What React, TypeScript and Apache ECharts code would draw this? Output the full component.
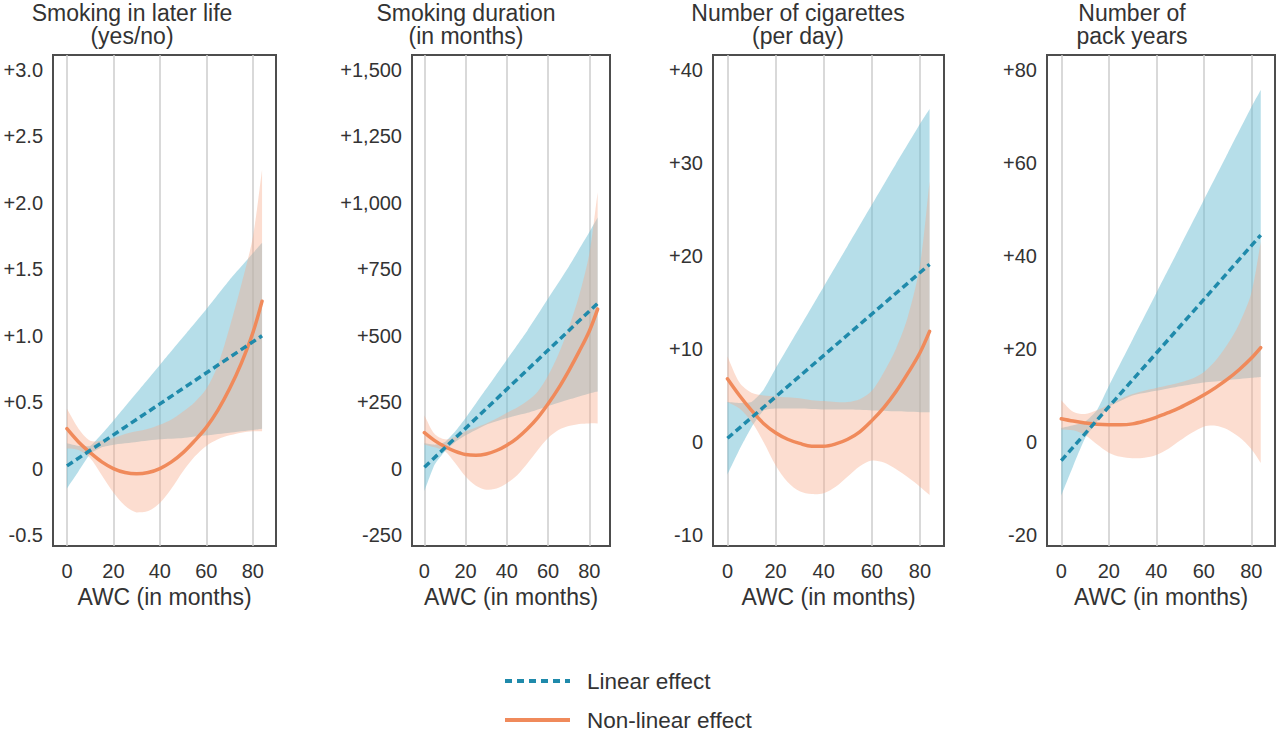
import React, { useEffect, useRef } from "react";
import * as echarts from "echarts";

// ---------- data ----------
const AWC = [0, 5, 10, 15, 20, 25, 30, 35, 40, 45, 50, 55, 60, 65, 70, 75, 80, 84];
const AWC_LIN = [0, 5, 10, 15, 20, 30, 40, 50, 60, 70, 80, 84];
const AWC_ENDS = [0, 84];
const X_TICKS = [0, 20, 40, 60, 80];

const TITLE_LINE1 = ["Smoking in later life", "Smoking duration", "Number of cigarettes", "Number of"];
const TITLE_LINE2 = ["(yes/no)", "(in months)", "(per day)", "pack years"];

// Panel 1 – smoking in later life
const p1Ticks = [-0.5, 0, 0.5, 1, 1.5, 2, 2.5, 3];
const p1TickLabels = ["-0.5", "0", "+0.5", "+1.0", "+1.5", "+2.0", "+2.5", "+3.0"];
const p1LinearEffect = [0.02, 1.0];
const p1LinearLow = [-0.15, -0.02, 0.11, 0.16, 0.18, 0.2, 0.22, 0.23, 0.25, 0.27, 0.29, 0.3];
const p1LinearHigh = [0.19, 0.17, 0.17, 0.26, 0.36, 0.57, 0.78, 0.99, 1.2, 1.42, 1.62, 1.7];
const p1NonLinear = [0.3, 0.2, 0.12, 0.05, 0.0, -0.03, -0.04, -0.03, 0.0, 0.05, 0.12, 0.21, 0.31, 0.44, 0.6, 0.79, 1.02, 1.26];
const p1NonLinearLow = [0.15, 0.14, 0.08, -0.05, -0.18, -0.28, -0.33, -0.32, -0.26, -0.15, -0.02, 0.09, 0.17, 0.22, 0.25, 0.27, 0.28, 0.28];
const p1NonLinearHigh = [0.45, 0.3, 0.21, 0.21, 0.23, 0.26, 0.28, 0.3, 0.33, 0.37, 0.43, 0.5, 0.6, 0.78, 1.06, 1.38, 1.74, 2.25];

// Panel 2 – smoking duration
const p2Ticks = [-250, 0, 250, 500, 750, 1000, 1250, 1500];
const p2TickLabels = ["-250", "0", "+250", "+500", "+750", "+1,000", "+1,250", "+1,500"];
const p2LinearEffect = [5, 622];
const p2LinearLow = [-85, 15, 65, 100, 125, 165, 190, 210, 235, 260, 283, 290];
const p2LinearHigh = [95, 90, 100, 140, 190, 300, 410, 520, 640, 760, 890, 945];
const p2NonLinear = [135, 105, 82, 65, 53, 50, 55, 68, 88, 115, 150, 192, 244, 302, 368, 440, 518, 600];
const p2NonLinearLow = [90, 80, 65, 20, -30, -65, -80, -75, -55, -25, 20, 70, 115, 145, 160, 168, 170, 170];
const p2NonLinearHigh = [200, 130, 110, 120, 140, 155, 170, 188, 210, 230, 255, 290, 350, 430, 530, 650, 810, 1040];

// Panel 3 – number of cigarettes
const p3Ticks = [-10, 0, 10, 20, 30, 40];
const p3TickLabels = ["-10", "0", "+10", "+20", "+30", "+40"];
const p3LinearEffect = [0.4, 19.1];
const p3LinearLow = [-3.5, -0.8, 1.6, 3.4, 3.6, 3.6, 3.5, 3.5, 3.4, 3.3, 3.2, 3.2];
const p3LinearHigh = [4.3, 4.2, 4.3, 5.6, 7.9, 12.3, 16.7, 21.1, 25.5, 29.9, 34.2, 35.8];
const p3NonLinear = [6.8, 5.0, 3.4, 2.0, 1.0, 0.3, -0.15, -0.45, -0.45, -0.2, 0.3, 1.1, 2.3, 3.7, 5.4, 7.4, 9.6, 11.9];
const p3NonLinearLow = [4.3, 3.6, 2.2, 0, -2.5, -4.3, -5.3, -5.6, -5.5, -4.8, -3.7, -2.6, -2.0, -2.2, -2.9, -3.8, -4.8, -5.7];
const p3NonLinearHigh = [9.2, 6.4, 5.3, 5.0, 4.9, 4.8, 4.7, 4.5, 4.4, 4.3, 4.3, 4.6, 5.5, 7.5, 10, 13.5, 19, 28];

// Panel 4 – number of pack years
const p4Ticks = [-20, 0, 20, 40, 60, 80];
const p4TickLabels = ["-20", "0", "+20", "+40", "+60", "+80"];
const p4LinearEffect = [-4, 44.5];
const p4LinearLow = [-11.5, -5.2, 0.8, 4.3, 7.5, 10, 11, 12, 12.8, 13.3, 13.8, 14];
const p4LinearHigh = [3, 3.6, 4.3, 6.8, 12, 22, 32, 42, 52, 62, 72, 75.7];
const p4NonLinear = [5.0, 4.5, 4.1, 3.8, 3.7, 3.7, 3.9, 4.5, 5.3, 6.3, 7.4, 8.7, 10.1, 11.7, 13.5, 15.6, 18, 20.3];
const p4NonLinearLow = [2.7, 2.5, 1.5, -0.5, -2.3, -3.2, -3.5, -3.4, -2.8, -1.5, 0.3, 2.0, 3.3, 3.5, 2.7, 1.0, -1.5, -4.5];
const p4NonLinearHigh = [9, 6.5, 6, 6.8, 8, 9.3, 10.3, 11, 11.6, 12.2, 12.8, 13.6, 15, 17.5, 21, 25.5, 32, 43];

const PANELS = [
  { ticks: p1Ticks, labels: p1TickLabels, lin: p1LinearEffect, linLo: p1LinearLow, linHi: p1LinearHigh, nl: p1NonLinear, nlLo: p1NonLinearLow, nlHi: p1NonLinearHigh },
  { ticks: p2Ticks, labels: p2TickLabels, lin: p2LinearEffect, linLo: p2LinearLow, linHi: p2LinearHigh, nl: p2NonLinear, nlLo: p2NonLinearLow, nlHi: p2NonLinearHigh },
  { ticks: p3Ticks, labels: p3TickLabels, lin: p3LinearEffect, linLo: p3LinearLow, linHi: p3LinearHigh, nl: p3NonLinear, nlLo: p3NonLinearLow, nlHi: p3NonLinearHigh },
  { ticks: p4Ticks, labels: p4TickLabels, lin: p4LinearEffect, linLo: p4LinearLow, linHi: p4LinearHigh, nl: p4NonLinear, nlLo: p4NonLinearLow, nlHi: p4NonLinearHigh },
];

// ---------- layout / style ----------
const GRID_TOP = 55;
const GRID_HEIGHT = 491;
const GRID_BOXES = [
  { left: 53, width: 223 },
  { left: 412, width: 198 },
  { left: 713, width: 231 },
  { left: 1047, width: 228 },
];
const Y_RANGES = [
  [-0.583, 3.113],
  [-291.4, 1556.5],
  [-11.18, 41.61],
  [-22.37, 83.23],
];
const X_RANGE = [-6, 90];
const TITLE_CENTERS = [132, 466, 798, 1132];

const FONT = "'Liberation Sans', Arial, Helvetica, sans-serif";
const TEXT = "#333333";
const BLUE_LINE = "#1f8aab";
const ORANGE_LINE = "#f08a5b";
const BLUE_BAND = "rgba(110,190,212,0.5)";
const ORANGE_BAND = "rgba(248,170,138,0.4)";

function bandSeries(i: number, xs: number[], lo: number[], hi: number[], fill: string, z: number, smooth: number) {
  const rows = xs.map((x, k) => [x, lo[k], hi[k]]);
  return {
    type: "custom",
    xAxisIndex: i,
    yAxisIndex: i,
    z,
    silent: true,
    data: rows,
    renderItem: (params: any, api: any) => {
      if (params.dataIndex !== 0) return { type: "group", children: [] };
      const top = rows.map((r) => api.coord([r[0], r[2]]));
      const bottom = rows.slice().reverse().map((r) => api.coord([r[0], r[1]]));
      const pts = [top[0], ...top, top[top.length - 1], bottom[0], ...bottom, bottom[bottom.length - 1]];
      let minX = Infinity, minY = Infinity, maxX = -Infinity, maxY = -Infinity;
      pts.forEach((p: number[]) => {
        minX = Math.min(minX, p[0]); maxX = Math.max(maxX, p[0]);
        minY = Math.min(minY, p[1]); maxY = Math.max(maxY, p[1]);
      });
      return {
        type: "polygon",
        silent: true,
        shape: { points: pts, smooth, smoothConstraint: [[minX, minY], [maxX, maxY]] },
        style: { fill, stroke: "none" },
      };
    },
  };
}

export default function App() {
  const ref = useRef<HTMLDivElement>(null);

  useEffect(() => {
    if (!ref.current) return;
    const chart = echarts.init(ref.current, undefined, { renderer: "svg" });

    const grid = GRID_BOXES.map((g) => ({
      left: g.left,
      width: g.width,
      top: GRID_TOP,
      height: GRID_HEIGHT,
      show: true,
      borderColor: "#4d4d4d",
      borderWidth: 2,
      backgroundColor: "transparent",
    }));

    const xAxis = GRID_BOXES.map((_, i) => ({
      gridIndex: i,
      type: "value",
      min: X_RANGE[0],
      max: X_RANGE[1],
      axisLine: { show: false },
      axisTick: { show: false },
      splitLine: { show: false },
      axisLabel: { customValues: X_TICKS, margin: 15, fontSize: 20, color: TEXT, fontFamily: FONT },
      name: "AWC (in months)",
      nameLocation: "middle",
      nameGap: 39,
      nameTextStyle: { fontSize: 23, color: TEXT, fontFamily: FONT },
    }));

    const yAxis = PANELS.map((p, i) => ({
      gridIndex: i,
      type: "value",
      min: Y_RANGES[i][0],
      max: Y_RANGES[i][1],
      axisLine: { show: false },
      axisTick: { show: false },
      splitLine: { show: false },
      axisLabel: {
        customValues: p.ticks,
        margin: 10,
        fontSize: 20,
        color: TEXT,
        fontFamily: FONT,
        formatter: (v: number) => {
          const k = p.ticks.findIndex((t) => Math.abs(t - v) < 1e-9);
          return k >= 0 ? p.labels[k] : "";
        },
      },
    }));

    const series: any[] = [];
    PANELS.forEach((p, i) => {
      series.push(bandSeries(i, AWC_LIN, p.linLo, p.linHi, BLUE_BAND, 2, 0.15));
      series.push(bandSeries(i, AWC, p.nlLo, p.nlHi, ORANGE_BAND, 3, 0.3));
      series.push({
        type: "line",
        name: "Non-linear effect",
        xAxisIndex: i,
        yAxisIndex: i,
        z: 4,
        data: AWC.map((x, k) => [x, p.nl[k]]),
        showSymbol: false,
        symbol: "none",
        smooth: 0.35,
        lineStyle: { color: ORANGE_LINE, width: 3.5, cap: "round" },
        silent: true,
      });
      series.push({
        type: "line",
        name: "Linear effect",
        xAxisIndex: i,
        yAxisIndex: i,
        z: 5,
        data: AWC_ENDS.map((x, k) => [x, p.lin[k]]),
        showSymbol: false,
        symbol: "none",
        lineStyle: { color: BLUE_LINE, width: 3.5, type: [7, 4] },
        silent: true,
        markLine: {
          silent: true,
          z: 1,
          symbol: ["none", "none"],
          label: { show: false },
          lineStyle: { color: "#cccccc", width: 1.5, type: "solid" },
          data: X_TICKS.map((v) => ({ xAxis: v })),
        },
      });
    });

    const titleText = (text: string, x: number, y: number) => ({
      type: "text",
      x,
      y,
      silent: true,
      style: {
        text,
        fontSize: 23,
        fontFamily: FONT,
        fill: TEXT,
        align: "center",
        verticalAlign: "middle",
      },
    });

    const graphic: any[] = [];
    TITLE_CENTERS.forEach((cx, i) => {
      graphic.push(titleText(TITLE_LINE1[i], cx, 12.5));
      graphic.push(titleText(TITLE_LINE2[i], cx, 36));
    });
    graphic.push(
      {
        type: "line",
        silent: true,
        shape: { x1: 505, y1: 681, x2: 570, y2: 681 },
        style: { stroke: BLUE_LINE, lineWidth: 4, lineDash: [7, 5] },
      },
      {
        type: "text",
        silent: true,
        x: 587,
        y: 681,
        style: { text: "Linear effect", fontSize: 22.5, fontFamily: FONT, fill: TEXT, align: "left", verticalAlign: "middle" },
      },
      {
        type: "line",
        silent: true,
        shape: { x1: 505, y1: 720, x2: 570, y2: 720 },
        style: { stroke: ORANGE_LINE, lineWidth: 4 },
      },
      {
        type: "text",
        silent: true,
        x: 587,
        y: 720,
        style: { text: "Non-linear effect", fontSize: 22.5, fontFamily: FONT, fill: TEXT, align: "left", verticalAlign: "middle" },
      }
    );

    chart.setOption({
      animation: false,
      backgroundColor: "#ffffff",
      textStyle: { fontFamily: FONT },
      grid,
      xAxis,
      yAxis,
      series,
      graphic,
    });

    return () => chart.dispose();
  }, []);

  return (
    <div
      ref={ref}
      style={{ position: "fixed", left: 0, top: 0, width: 1280, height: 731 }}
    />
  );
}
